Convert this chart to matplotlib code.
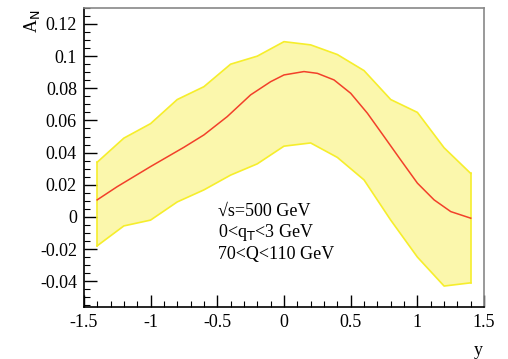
import matplotlib.pyplot as plt
from matplotlib.ticker import MultipleLocator
import numpy as np

plt.rcParams['font.family'] = ['Liberation Serif', 'DejaVu Serif']

# band edges
band_y = [-1.4, -1.2, -1.0, -0.8, -0.6, -0.4, -0.2, 0.0, 0.2, 0.4, 0.6, 0.8, 1.0, 1.2, 1.4]
band_hi = [0.034, 0.049, 0.058, 0.073, 0.081, 0.095, 0.100, 0.109, 0.107, 0.101, 0.091, 0.073, 0.065, 0.043, 0.027]
band_lo = [-0.018, -0.0056, -0.002, 0.0093, 0.0168, 0.026, 0.033, 0.044, 0.046, 0.037, 0.023, -0.002, -0.025, -0.043, -0.041]

# central curve
curve_y = [-1.4, -1.25, -1.0, -0.75, -0.6, -0.425, -0.25, -0.1, 0.0, 0.15, 0.25, 0.375,
           0.5, 0.625, 0.75, 0.875, 1.0, 1.125, 1.25, 1.4]
curve_an = [0.0106, 0.0188, 0.0313, 0.0433, 0.051, 0.0624, 0.0759, 0.0841, 0.0883, 0.0904, 0.0893, 0.0852,
            0.0769, 0.0645, 0.050, 0.0354, 0.021, 0.0106, 0.0033, -0.0008]

fig = plt.figure(figsize=(5.08, 3.59), dpi=100)
ax = fig.add_axes([0.165, 0.145, 0.788, 0.833])

ax.fill_between(band_y, band_lo, band_hi, facecolor='#fbf7ac', edgecolor='none', zorder=1)
edge = dict(color='#f6ee2c', lw=1.2, zorder=2)
ax.plot(band_y, band_hi, **edge)
ax.plot(band_y, band_lo, **edge)
ax.plot([band_y[0], band_y[0]], [band_lo[0], band_hi[0]], **edge)
ax.plot([band_y[-1], band_y[-1]], [band_lo[-1], band_hi[-1]], **edge)
ax.plot(curve_y, curve_an, color='#f2402a', lw=1.1, zorder=3)

ax.set_xlim(-1.5, 1.5)
ax.set_ylim(-0.056, 0.13)
ax.xaxis.set_minor_locator(MultipleLocator(0.1))
ax.yaxis.set_minor_locator(MultipleLocator(0.005))
ax.set_xticks([-1.5, -1, -0.5, 0, 0.5, 1, 1.5])
ax.set_xticklabels(['-1.5', '-1', '-0.5', '0', '0.5', '1', '1.5'])
ax.set_yticks([-0.04, -0.02, 0, 0.02, 0.04, 0.06, 0.08, 0.1, 0.12])
ax.set_yticklabels(['-0.04', '-0.02', '0', '0.02', '0.04', '0.06', '0.08', '0.1', '0.12'])
ax.tick_params(which='major', direction='in', length=9, width=1, labelsize=13, pad=5)
ax.tick_params(which='minor', direction='in', length=4.5, width=0.8)
for s in ['left', 'bottom']:
    ax.spines[s].set_linewidth(1.2)
for s in ['right', 'top']:
    ax.spines[s].set_color('#888888')
    ax.spines[s].set_linewidth(1.2)

ax.text(-0.495, 0.0037, '√s=500 GeV', fontsize=13, va='center')
ax.text(-0.495, -0.010, r'0<q$_{\rm T}$<3 GeV', fontsize=13, va='center')
ax.text(-0.495, -0.0236, '70<Q<110 GeV', fontsize=13, va='center')

fig.text(0.063, 0.942, r'A$_{\rm N}$', rotation=90, fontsize=13, ha='center', va='center')
fig.text(0.942, 0.025, 'y', fontsize=13, ha='center', va='center')

fig.savefig('out.png', dpi=100)
